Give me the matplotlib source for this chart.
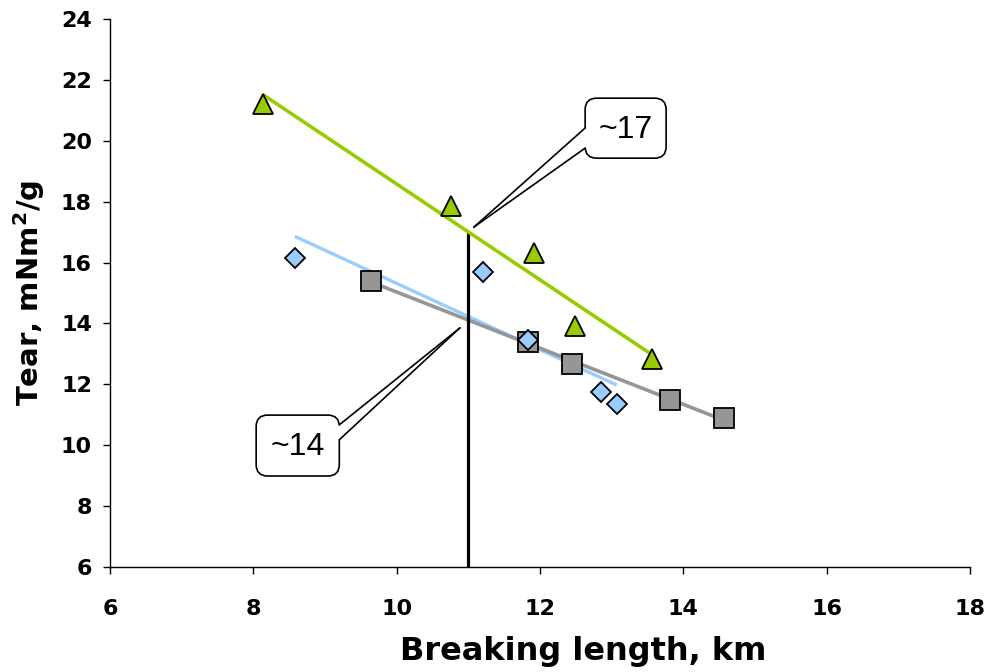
import numpy as np
import matplotlib
matplotlib.use("Agg")
import matplotlib.pyplot as plt
from matplotlib.patches import FancyBboxPatch, Polygon

plt.rcParams['font.family'] = ['Liberation Sans', 'DejaVu Sans']

# Breaking length (km) and tear index (mNm2/g) for the three pulp series
diamond_x = [8.58, 11.20, 11.83, 12.85, 13.07]
diamond_y = [16.15, 15.69, 13.45, 11.75, 11.35]

square_x = [9.64, 11.83, 12.45, 13.81, 14.57]
square_y = [15.39, 13.39, 12.67, 11.48, 10.89]

triangle_x = [8.13, 10.76, 11.92, 12.49, 13.56]
triangle_y = [21.20, 17.86, 16.31, 13.91, 12.83]

ref_length = 11
ref_tear_high = 17
ref_tear_low = 14

x_ticks = [6, 8, 10, 12, 14, 16, 18]
y_ticks = [6, 8, 10, 12, 14, 16, 18, 20, 22, 24]

BLUE = "#99CCFF"
GREY = "#969696"
GREEN = "#99CC00"
BOLD_FONT = ["DejaVu Sans"]

fig = plt.figure(figsize=(9.87, 6.72), dpi=100)
ax = fig.add_axes([0.1114, 0.1562, 0.8714, 0.8155])


def trend(ax, xs, ys, color, lw, z):
    k, b = np.polyfit(xs, ys, 1)
    xx = np.array([min(xs), max(xs)])
    ax.plot(xx, k * xx + b, color=color, lw=lw, zorder=z, solid_capstyle="butt")


trend(ax, diamond_x, diamond_y, BLUE, 2.4, 2)
trend(ax, square_x, square_y, GREY, 2.6, 3)
trend(ax, triangle_x, triangle_y, GREEN, 2.6, 4)

# vertical marker at the reference breaking length
ax.plot([ref_length, ref_length], [6, ref_tear_high], color="black", lw=2.3,
        zorder=3.5, solid_capstyle="butt")

ax.plot(square_x, square_y, ls="none", marker="s", ms=15, mfc=GREY, mec="black",
        mew=1.3, zorder=5)
ax.plot(diamond_x, diamond_y, ls="none", marker="D", ms=10.5, mfc=BLUE, mec="black",
        mew=1.3, zorder=6)
ax.plot(triangle_x, triangle_y, ls="none", marker="^", ms=15, mfc=GREEN, mec="black",
        mew=1.3, zorder=7)


def callout(ax, text, box, tip, base, tx):
    x0, y0, x1, y1 = box
    # wedge pointer (white body, black sides)
    poly = Polygon([base[0], tip, base[1], (tx, base[1][1]), (tx, base[0][1])],
                   closed=True, fc="white", ec="none", zorder=9)
    ax.add_patch(poly)
    p = FancyBboxPatch((x0, y0), x1 - x0, y1 - y0,
                       boxstyle="round,pad=0,rounding_size=0.16",
                       fc="white", ec="black", lw=1.2, zorder=8,
                       mutation_aspect=71.67 / 30.44)
    ax.add_patch(p)
    for b in base:
        ax.plot([b[0], tip[0]], [b[1], tip[1]], color="black", lw=1.2, zorder=10)
    ax.text((x0 + x1) / 2, (y0 + y1) / 2 - 0.05, text, ha="center", va="center",
            fontsize=23, zorder=11)


callout(ax, f"~{ref_tear_high}", (12.63, 19.43, 13.76, 21.40), (11.08, 17.17),
        [(12.63, 20.42), (12.63, 19.76)], 12.75)
callout(ax, f"~{ref_tear_low}", (8.04, 8.99, 9.20, 10.99), (10.88, 13.85),
        [(9.20, 10.67), (9.20, 10.18)], 9.08)

ax.set_xlim(6, 18)
ax.set_ylim(6, 24)
ax.set_xticks(x_ticks)
ax.set_yticks(y_ticks)
for s in ("top", "right"):
    ax.spines[s].set_visible(False)
for s in ("left", "bottom"):
    ax.spines[s].set_linewidth(1.0)
ax.tick_params(axis="both", direction="out", length=5, width=1.0,
               labelsize=16)
ax.tick_params(axis="x", pad=18)
ax.tick_params(axis="y", pad=8)
for lab in ax.get_xticklabels() + ax.get_yticklabels():
    lab.set_fontweight("bold")
    lab.set_family(BOLD_FONT)

ax.set_xlabel("Breaking length, km", fontsize=23, fontweight="bold",
              family=BOLD_FONT)
ax.xaxis.set_label_coords(0.55, -0.125)
ax.set_ylabel("Tear, mNm$^\\mathbf{2}$/g", fontsize=21, fontweight="bold",
              family=BOLD_FONT, labelpad=10)

fig.savefig("out.png", dpi=100)
